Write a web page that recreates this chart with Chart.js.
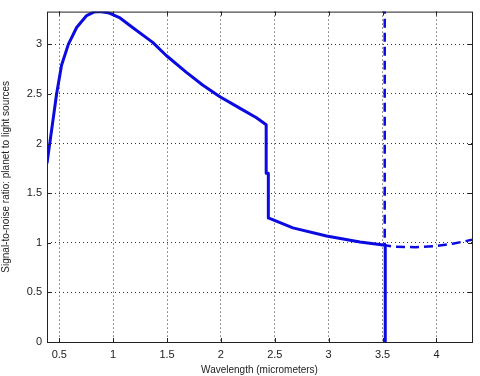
<!DOCTYPE html>
<html>
<head>
<meta charset="utf-8">
<script src="https://cdn.jsdelivr.net/npm/chart.js@4/dist/chart.umd.min.js"></script>
<style>
  html, body { margin: 0; padding: 0; background: #fff; }
  #wrap { width: 480px; height: 376px; }
</style>
</head>
<body>
<div id="wrap"><canvas id="c"></canvas></div>
<script>
// Solid curve: signal-to-noise ratio vs wavelength
const solidWavelength = [0.386, 0.428, 0.475, 0.521, 0.584, 0.661, 0.754, 0.82, 0.878, 0.965, 1.058, 1.18, 1.367, 1.49, 1.677, 1.83, 1.987, 2.17, 2.33, 2.42, 2.42, 2.44, 2.44, 2.668, 2.98, 3.29, 3.525, 3.525];
const solidSnr        = [1.80, 2.13, 2.50, 2.79, 3.00, 3.17, 3.29, 3.325, 3.33, 3.315, 3.27, 3.17, 3.02, 2.89, 2.72, 2.59, 2.475, 2.36, 2.26, 2.19, 1.70, 1.70, 1.25, 1.15, 1.068, 1.008, 0.975, 0.0];

// Dashed curve
const dashedWavelength = [3.52, 3.52, 3.6, 3.8, 3.97, 4.15, 4.33];
const dashedSnr        = [3.40, 0.975, 0.962, 0.955, 0.965, 0.99, 1.03];

const xTicks = [0.5, 1, 1.5, 2, 2.5, 3, 3.5, 4];
const yTicks = [0, 0.5, 1, 1.5, 2, 2.5, 3];

const lineColor = 'rgb(10, 10, 225)';
const fontFamily = "'Liberation Sans', Arial, sans-serif";

function toPoints(xs, ys) {
    return xs.map((x, i) => ({ x: x, y: ys[i] }));
}

// Box around the plot plus inward tick marks (MATLAB style)
const boxPlugin = {
    id: 'box',
    afterDraw(chart) {
        const { ctx, chartArea: a, scales } = chart;
        ctx.save();
        ctx.strokeStyle = '#222';
        ctx.lineWidth = 1;
        ctx.strokeRect(a.left + 0.5, a.top + 0.5, a.right - a.left, a.bottom - a.top);
        ctx.beginPath();
        xTicks.forEach(v => {
            const px = Math.round(scales.x.getPixelForValue(v)) + 0.5;
            ctx.moveTo(px, a.bottom); ctx.lineTo(px, a.bottom - 4);
            ctx.moveTo(px, a.top); ctx.lineTo(px, a.top + 4);
        });
        yTicks.forEach(v => {
            const py = Math.round(scales.y.getPixelForValue(v)) + 0.5;
            ctx.moveTo(a.left, py); ctx.lineTo(a.left + 4, py);
            ctx.moveTo(a.right, py); ctx.lineTo(a.right - 4, py);
        });
        ctx.stroke();
        ctx.restore();
    }
};

new Chart(document.getElementById('c'), {
    type: 'scatter',
    data: {
        datasets: [{
            data: toPoints(solidWavelength, solidSnr),
            showLine: true,
            borderColor: lineColor,
            borderWidth: 3,
            borderJoinStyle: 'round',
            pointRadius: 0,
            tension: 0
        }, {
            data: toPoints(dashedWavelength, dashedSnr),
            showLine: true,
            borderColor: lineColor,
            borderWidth: 2.5,
            borderDash: [9, 5],
            pointRadius: 0,
            tension: 0
        }]
    },
    options: {
        responsive: true,
        maintainAspectRatio: false,
        animation: false,
        layout: { padding: { left: 0, right: 8, top: 5, bottom: 0 } },
        plugins: {
            legend: { display: false },
            tooltip: { enabled: false }
        },
        scales: {
            x: {
                type: 'linear',
                min: 0.386,
                max: 4.33,
                afterBuildTicks(scale) { scale.ticks = xTicks.map(v => ({ value: v })); },
                afterFit(scale) { scale.height = 34; },
                grid: {
                    color: '#333',
                    lineWidth: 1,
                    drawTicks: false
                },
                border: { display: false, dash: [1, 3] },
                ticks: {
                    color: '#222',
                    padding: 6,
                    maxRotation: 0,
                    font: { family: fontFamily, size: 11 },
                    callback: v => String(v)
                },
                title: {
                    display: true,
                    text: 'Wavelength (micrometers)',
                    color: '#222',
                    padding: { top: 0, bottom: 0 },
                    font: { family: fontFamily, size: 10 }
                }
            },
            y: {
                type: 'linear',
                min: 0,
                max: 3.33,
                afterBuildTicks(scale) { scale.ticks = yTicks.map(v => ({ value: v })); },
                afterFit(scale) { scale.width = 47; },
                grid: {
                    color: '#333',
                    lineWidth: 1,
                    drawTicks: false
                },
                border: { display: false, dash: [1, 3] },
                ticks: {
                    color: '#222',
                    padding: 5,
                    font: { family: fontFamily, size: 11 },
                    callback: v => String(v)
                },
                title: {
                    display: true,
                    text: 'Signal-to-noise ratio: planet to light sources',
                    color: '#222',
                    padding: { top: 0, bottom: 2 },
                    font: { family: fontFamily, size: 10 }
                }
            }
        }
    },
    plugins: [boxPlugin]
});
</script>
</body>
</html>
